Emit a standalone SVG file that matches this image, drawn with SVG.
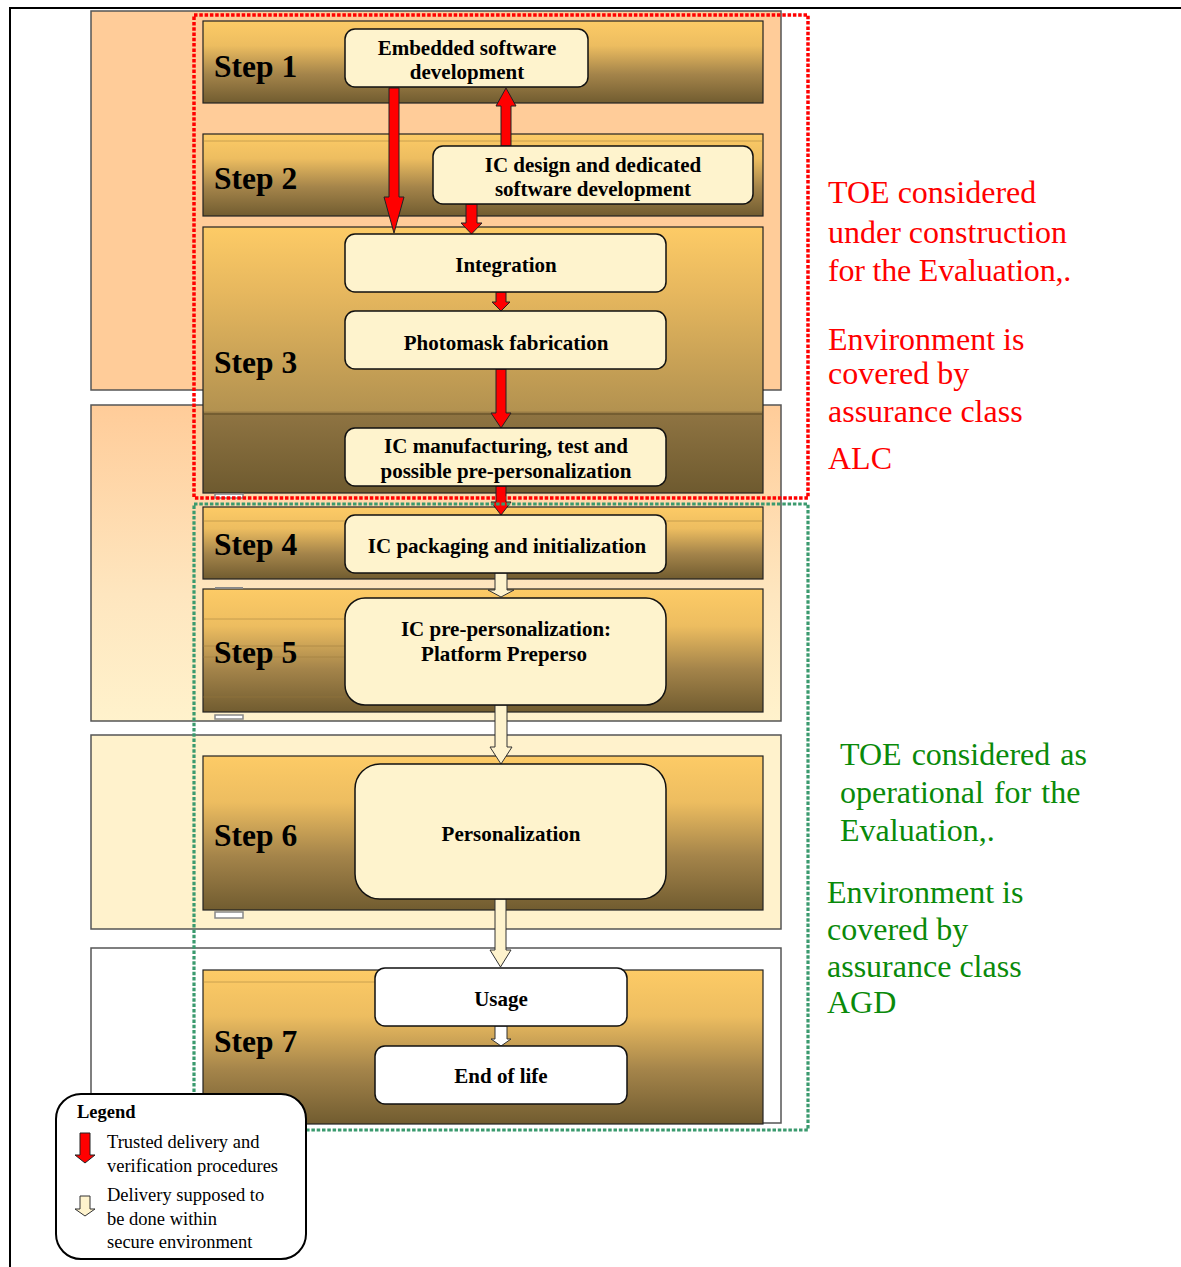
<svg xmlns="http://www.w3.org/2000/svg" width="1181" height="1267" viewBox="0 0 1181 1267">
<defs>
  <linearGradient id="band" x1="0" y1="0" x2="0" y2="1">
    <stop offset="0" stop-color="#FDCB66"/>
    <stop offset="0.3" stop-color="#EDBD60"/>
    <stop offset="0.65" stop-color="#A4844A"/>
    <stop offset="1" stop-color="#715C30"/>
  </linearGradient>
  <linearGradient id="band3" x1="0" y1="0" x2="0" y2="1">
    <stop offset="0" stop-color="#FDCB66"/>
    <stop offset="0.25" stop-color="#E6B75E"/>
    <stop offset="0.69" stop-color="#B39250"/>
    <stop offset="0.7" stop-color="#8F7442"/>
    <stop offset="1" stop-color="#6E5A2F"/>
  </linearGradient>
  <linearGradient id="panel2" x1="0" y1="0" x2="0" y2="1">
    <stop offset="0" stop-color="#FFCC99"/>
    <stop offset="0.6" stop-color="#FEE6BF"/>
    <stop offset="1" stop-color="#FFF2CC"/>
  </linearGradient>
  <style>
    .panel{stroke:#555;stroke-width:1.5}
    .band{fill:url(#band);stroke:#222;stroke-width:1.2}
    .node{fill:#FEF3CD;stroke:#111;stroke-width:1.5}
    .wnode{fill:#FFFFFF;stroke:#111;stroke-width:1.5}
    .step{font-family:"Liberation Serif",serif;font-weight:bold;font-size:31.5px;fill:#000}
    .nt{font-family:"Liberation Serif",serif;font-weight:bold;font-size:21px;fill:#000;text-anchor:middle}
    .red{font-family:"Liberation Serif",serif;font-size:32px;fill:#FF0000}
    .grn{font-family:"Liberation Serif",serif;font-size:32px;fill:#0A8A0A}
    .leg{font-family:"Liberation Serif",serif;font-size:18.5px;fill:#000}
    .ra{fill:#FF0000;stroke:#222;stroke-width:1}
    .ca{fill:#FEF3CD;stroke:#333;stroke-width:1}
    .wa{fill:#FFFFFF;stroke:#333;stroke-width:1}
    .tab{fill:#FFFFFF;stroke:#888;stroke-width:1.5}
    .stripe{stroke:#9A7A3A;stroke-width:0.8;opacity:0.6}
  </style>
</defs>

<!-- outer frame -->
<g id="frame">
  <line x1="9" y1="8" x2="1181" y2="8" stroke="#000" stroke-width="2"/>
  <line x1="10" y1="8" x2="10" y2="1267" stroke="#000" stroke-width="2"/>
</g>

<!-- background panels -->
<g id="panels">
  <rect class="panel" x="91" y="11" width="690" height="379" fill="#FFCC99"/>
  <rect class="panel" x="91" y="405" width="690" height="316" fill="url(#panel2)"/>
  <rect class="panel" x="91" y="735" width="690" height="194" fill="#FFF2CC"/>
  <rect class="panel" x="91" y="948" width="690" height="175" fill="#FFFFFF"/>
</g>

<!-- step bands -->
<g id="bands">
  <rect class="band" x="203" y="21" width="560" height="82"/>
  <rect class="band" x="203" y="134" width="560" height="82"/>
  <line class="stripe" x1="203" y1="141" x2="763" y2="141"/>
  <rect x="203" y="227" width="560" height="266" fill="url(#band3)" stroke="#222" stroke-width="1.2"/>
  <line x1="203" y1="414" x2="763" y2="414" stroke="#5a4822" stroke-width="1"/>
  <rect class="band" x="203" y="507" width="560" height="72"/>
  <line class="stripe" x1="203" y1="521" x2="763" y2="521"/>
  <rect class="band" x="203" y="589" width="560" height="123"/>
  <line class="stripe" x1="203" y1="619" x2="345" y2="619"/>
  <line class="stripe" x1="203" y1="646" x2="345" y2="646"/>
  <line class="stripe" x1="203" y1="657" x2="345" y2="657"/>
  <line class="stripe" x1="203" y1="697" x2="345" y2="697"/>
  <rect class="band" x="203" y="756" width="560" height="154"/>
  <rect class="band" x="203" y="970" width="560" height="154"/>
  <line class="stripe" x1="203" y1="982" x2="375" y2="982"/>
  <rect class="tab" x="215" y="494" width="28" height="4"/>
  <rect x="215" y="587" width="28" height="2" fill="#888"/>
  <rect class="tab" x="215" y="715" width="28" height="4"/>
  <rect class="tab" x="215" y="912" width="28" height="6"/>
</g>

<!-- step labels -->
<g id="step-labels">
  <text class="step" x="214" y="77">Step 1</text>
  <text class="step" x="214" y="189">Step 2</text>
  <text class="step" x="214" y="373">Step 3</text>
  <text class="step" x="214" y="555">Step 4</text>
  <text class="step" x="214" y="663">Step 5</text>
  <text class="step" x="214" y="846">Step 6</text>
  <text class="step" x="214" y="1052">Step 7</text>
</g>

<!-- connectors -->
<g id="connectors">
  <polygon class="ra" points="389,88 399,88 399,197 404,197 394,233 384,197 389,197"/>
  <polygon class="ra" points="501,146 511,146 511,106 516,106 506,88 496,106 501,106"/>
  <polygon class="ra" points="466,204 477,204 477,223 482,223 471.5,234 461,223 466,223"/>
  <polygon class="ra" points="496,292 506,292 506,302 510,302 501,311 492,302 496,302"/>
  <polygon class="ra" points="496,369 506,369 506,413 511,413 501,428 491,413 496,413"/>
  <polygon class="ra" points="496,486 506,486 506,502 511,502 501,515 491,502 496,502"/>
  <polygon class="ca" points="495,573 507,573 507,590 514,590 501,597 488,590 495,590"/>
  <polygon class="ca" points="495,705 507,705 507,747 512,747 501,764 490,747 495,747"/>
  <polygon class="ca" points="495,899 506,899 506,950 511,950 500.5,967 490,950 495,950"/>
  <polygon class="wa" points="495,1026 507,1026 507,1039 511,1039 501,1046 491,1039 495,1039"/>
</g>

<!-- nodes -->
<g id="n-embedded">
  <rect class="node" x="345" y="29" width="243" height="58" rx="10"/>
  <text class="nt" x="467" y="55">Embedded software</text>
  <text class="nt" x="467" y="79">development</text>
</g>
<g id="n-icdesign">
  <rect class="node" x="433" y="146" width="320" height="58" rx="10"/>
  <text class="nt" x="593" y="172">IC design and dedicated</text>
  <text class="nt" x="593" y="196">software development</text>
</g>
<g id="n-integration">
  <rect class="node" x="345" y="234" width="321" height="58" rx="10"/>
  <text class="nt" x="506" y="272">Integration</text>
</g>
<g id="n-photomask">
  <rect class="node" x="345" y="311" width="321" height="58" rx="10"/>
  <text class="nt" x="506" y="350">Photomask fabrication</text>
</g>
<g id="n-icmanuf">
  <rect class="node" x="345" y="428" width="321" height="58" rx="10"/>
  <text class="nt" x="506" y="453">IC manufacturing, test and</text>
  <text class="nt" x="506" y="478">possible pre-personalization</text>
</g>
<g id="n-icpack">
  <rect class="node" x="345" y="515" width="321" height="58" rx="10"/>
  <text class="nt" x="507" y="553">IC packaging and initialization</text>
</g>
<g id="n-prepers">
  <rect class="node" x="345" y="598" width="321" height="107" rx="20"/>
  <text class="nt" x="506" y="636">IC pre-personalization:</text>
  <text class="nt" x="504" y="661">Platform Preperso</text>
</g>
<g id="n-pers">
  <rect class="node" x="355" y="764" width="311" height="135" rx="25"/>
  <text class="nt" x="511" y="841">Personalization</text>
</g>
<g id="n-usage">
  <rect class="wnode" x="375" y="968" width="252" height="58" rx="10"/>
  <text class="nt" x="501" y="1006">Usage</text>
</g>
<g id="n-eol">
  <rect class="wnode" x="375" y="1046" width="252" height="58" rx="10"/>
  <text class="nt" x="501" y="1083">End of life</text>
</g>

<!-- dotted boundaries -->
<g id="boundaries">
  <rect x="194" y="15" width="614" height="483" fill="none" stroke="#FF0000" stroke-width="3.5" stroke-dasharray="3.5 1.8"/>
  <rect x="194" y="504" width="614" height="626" fill="none" stroke="#3A9A6E" stroke-width="3.2" stroke-dasharray="3.5 1.8"/>
</g>

<!-- annotations -->
<g id="alc-text">
  <text class="red" x="828" y="203">TOE considered</text>
  <text class="red" x="828" y="243">under construction</text>
  <text class="red" x="828" y="281" letter-spacing="-0.2">for the Evaluation,.</text>
  <text class="red" x="828" y="350">Environment is</text>
  <text class="red" x="828" y="384">covered by</text>
  <text class="red" x="828" y="422">assurance class</text>
  <text class="red" x="828" y="469">ALC</text>
</g>
<g id="agd-text">
  <text class="grn" x="840" y="765" word-spacing="2">TOE considered as</text>
  <text class="grn" x="840" y="803" word-spacing="2">operational for the</text>
  <text class="grn" x="840" y="841">Evaluation,.</text>
  <text class="grn" x="827" y="903">Environment is</text>
  <text class="grn" x="827" y="940">covered by</text>
  <text class="grn" x="827" y="977">assurance class</text>
  <text class="grn" x="827" y="1013">AGD</text>
</g>

<!-- legend -->
<g id="legend">
  <rect x="56" y="1094" width="250" height="165" rx="25" fill="#FFFFFF" stroke="#000" stroke-width="2"/>
  <text class="leg" x="77" y="1118" font-weight="bold">Legend</text>
  <polygon class="ra" points="80,1133 90,1133 90,1155 95,1155 85,1163 75,1155 80,1155"/>
  <text class="leg" x="107" y="1148">Trusted delivery and</text>
  <text class="leg" x="107" y="1172">verification procedures</text>
  <polygon class="ca" points="80,1196 90,1196 90,1209 95,1209 85,1216 75,1209 80,1209"/>
  <text class="leg" x="107" y="1201">Delivery supposed to</text>
  <text class="leg" x="107" y="1225">be done within</text>
  <text class="leg" x="107" y="1248">secure environment</text>
</g>
</svg>
